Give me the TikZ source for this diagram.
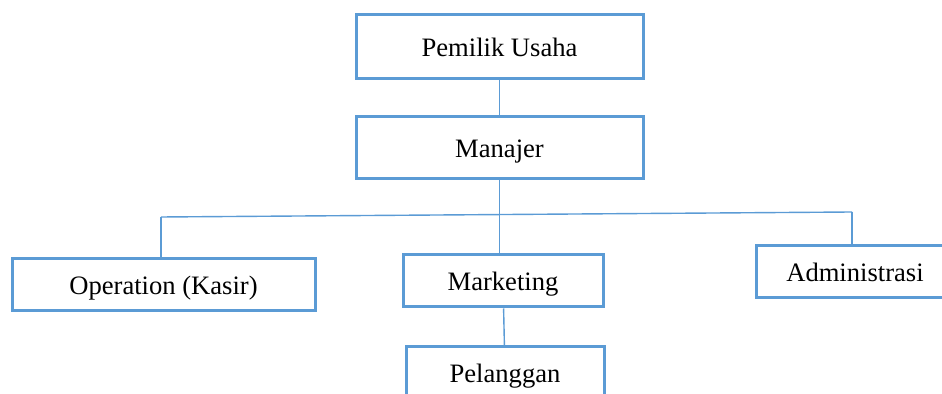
\documentclass[tikz,border=0pt]{standalone}
\usepackage{fontspec}
\setmainfont{Liberation Serif}
\definecolor{boxblue}{RGB}{91,155,213}
\tikzset{
  orgbox/.style={draw=boxblue,line width=1.5pt,fill=white,rectangle,inner sep=0pt,
    text height=12pt,text depth=2.2pt,font=\fontsize{13.3}{15}\selectfont},
  orgline/.style={draw=boxblue,line width=0.7pt}
}
\begin{document}
\begin{tikzpicture}[x=0.5pt,y=-0.5pt]
\clip (0,0) rectangle (942,394);
% Org chart
\node[orgbox,minimum width=143.5pt,minimum height=32pt] (owner) at (499.5,47) {Pemilik Usaha};
\node[orgbox,minimum width=143.5pt,minimum height=31pt] (manajer) at (499.5,148) {Manajer};

\node[orgbox,minimum width=151.5pt,minimum height=26pt] (kasir) at (163.5,285) {Operation (Kasir)};
\node[orgbox,minimum width=100pt,minimum height=26pt] (marketing) at (503,281) {Marketing};
\node[orgbox,minimum width=99pt,minimum height=26pt] (admin) at (855,271.5) {Administrasi};

\node[orgbox,minimum width=99pt,minimum height=26pt] (pelanggan) at (505,373) {Pelanggan};

\coordinate (busL) at (161,217);
\coordinate (busR) at (852,212);

\draw[orgline] (owner) -- (manajer);
\draw[orgline] (manajer.south) -- (manajer.south |- marketing.north);
\draw[orgline] (busL) -- (busR);
\draw[orgline] (busL) -- (busL |- kasir.north);
\draw[orgline] (busR) -- (busR |- admin.north);
\draw[orgline] (marketing) -- (pelanggan);
\end{tikzpicture}
\end{document}
